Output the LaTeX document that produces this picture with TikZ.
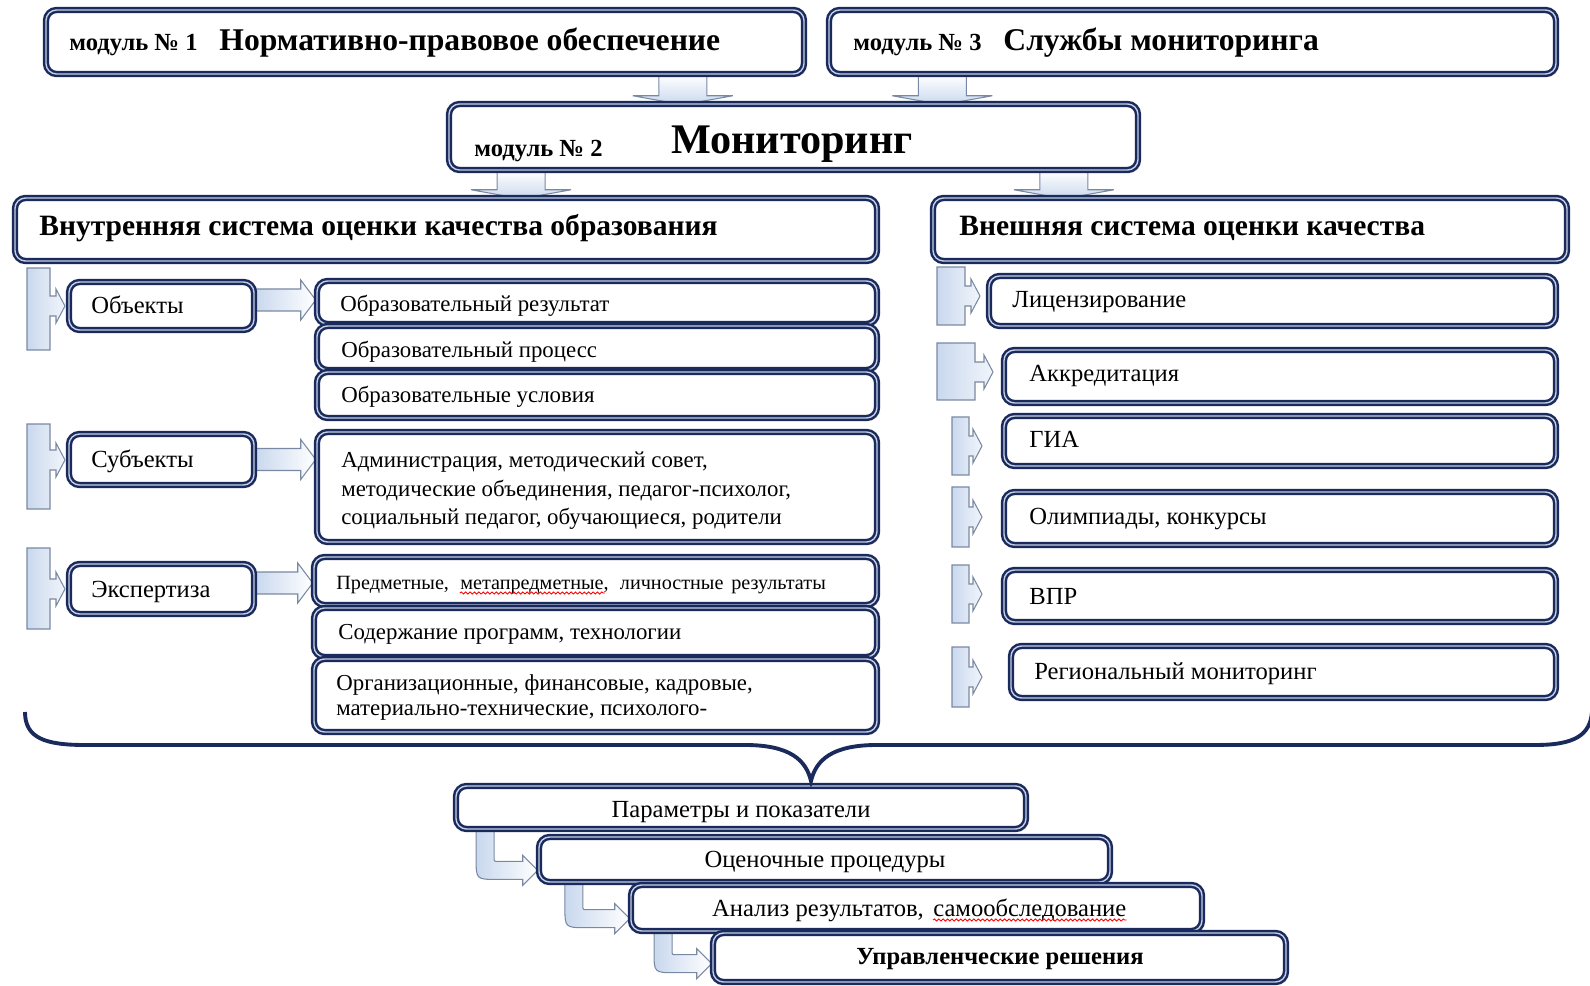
\documentclass[tikz,border=0pt]{standalone}
\usepackage{fontspec}
\setmainfont{Liberation Serif}
\usetikzlibrary{calc,fit,positioning,shadows,backgrounds,decorations.pathmorphing}
\definecolor{navy}{HTML}{1B2A5C}
\definecolor{boxin}{HTML}{C5D0E4}
\definecolor{arrfill}{HTML}{C9D8EE}
\definecolor{arredge}{HTML}{7A89A3}

\tikzset{
  box/.style={draw=navy, double=boxin, double distance=0.8pt, line width=1.4pt,
    rounded corners=6pt, fill=white, inner sep=0pt,
    drop shadow={shadow xshift=1.5pt, shadow yshift=-1.5pt, opacity=0.25}},
  txt/.style={inner sep=0pt, anchor=base west},
  modlbl/.style={txt, font=\bfseries\fontsize{14}{16}\selectfont},
  modtitle/.style={txt, font=\bfseries\fontsize{18}{21}\selectfont},
  bigtitle/.style={txt, font=\bfseries\fontsize{24}{28}\selectfont},
  systitle/.style={txt, font=\bfseries\fontsize{16.8}{20}\selectfont},
  lbl/.style={txt, font=\fontsize{14}{17}\selectfont},
  lbls/.style={txt, font=\fontsize{13}{16.5}\selectfont, align=left},
  lblb/.style={inner sep=0pt, font=\fontsize{14}{16}\selectfont},
  fatarrow/.style={draw=arredge, line width=0.6pt},
  fatdown/.style={fatarrow, top color=white, bottom color=arrfill, to path={
    ($(\tikztostart)+(-24,0)$) -- ($(\tikztotarget)+(-24,-9)$) -- ($(\tikztotarget)+(-50,-9)$)
    -- (\tikztotarget) -- ($(\tikztotarget)+(50,-9)$) -- ($(\tikztotarget)+(24,-9)$)
    -- ($(\tikztostart)+(24,0)$) -- cycle}},
  fatright/.style={fatarrow, left color=arrfill, right color=white, to path={
    ($(\tikztostart)+(0,-11)$) -- ($(\tikztotarget)+(-15,-11)$) -- ($(\tikztotarget)+(-15,-20)$)
    -- (\tikztotarget) -- ($(\tikztotarget)+(-15,20)$) -- ($(\tikztotarget)+(-15,11)$)
    -- ($(\tikztostart)+(0,11)$) -- cycle}},
  bentarrow/.style={fatarrow, left color=arrfill, right color=white, to path={
    ($(\tikztostart)+(-9,0)$) -- ($(\tikztostart|-\tikztotarget)+(-9,-12)$)
    .. controls ($(\tikztostart|-\tikztotarget)+(-9,9)$) .. ($(\tikztostart|-\tikztotarget)+(12,9)$)
    -- ($(\tikztotarget)+(-15,9)$) -- ($(\tikztotarget)+(-15,15)$) -- (\tikztotarget)
    -- ($(\tikztotarget)+(-15,-15)$) -- ($(\tikztotarget)+(-15,-9)$)
    -- ($(\tikztostart|-\tikztotarget)+(13,-9)$)
    .. controls ($(\tikztostart|-\tikztotarget)+(9,-9)$) .. ($(\tikztostart|-\tikztotarget)+(9,-13)$)
    -- ($(\tikztostart)+(9,0)$) -- cycle}},
  bracket/.style={fatarrow, left color=arrfill, right color=arrfill!25},
  spell/.style={red, line width=0.5pt, decorate, decoration={snake, amplitude=0.6pt, segment length=2.5pt}}
}
% bar x0,x1, top ya, bottom yb, arrow at ym, tip xt
\newcommand{\brarrow}[6]{%
  \draw[bracket] (#1,#3) -- (#2,#3) -- (#2,{#5-10}) -- ({#6-9},{#5-10}) -- ({#6-9},{#5-17})
    -- (#6,#5) -- ({#6-9},{#5+17}) -- ({#6-9},{#5+10}) -- (#2,{#5+10}) -- (#2,#4) -- (#1,#4) -- cycle;}

\begin{document}
\begin{tikzpicture}[x=0.02cm, y=-0.02cm]
\useasboundingbox (0,0) rectangle (1590,986);

% modules
\node[box, fit={(46,10) (804,74)}] (m1) {};
\node[box, fit={(829,10) (1556,74)}] (m3) {};
\node[box, fit={(449,104) (1138,170)}] (m2) {};
\node[modlbl] (m1a) at (69,51) {модуль № 1};
\node[modtitle, base right=12pt of m1a] (m1b) {Нормативно-правовое обеспечение};
\node[modlbl] (m3a) at (853,51) {модуль № 3};
\node[modtitle, base right=12pt of m3a] (m3b) {Службы мониторинга};
\node[modlbl] (m2a) at (474,157) {модуль № 2};
\node[bigtitle] (m2b) at (671,154) {Мониторинг};

% two systems
\node[box, fit={(15,198) (877,261)}] (int) {};
\node[box, fit={(933,198) (1567,261)}] (ext) {};
\node[systitle] (intt) at (39,236) {Внутренняя система оценки качества образования};
\node[systitle] (extt) at (959,236) {Внешняя система оценки качества};

% internal: left column
\node[box, fit={(69,282) (254,330)}] (ob) {};
\node[box, fit={(69,434) (254,485)}] (sub) {};
\node[box, fit={(69,564) (254,614)}] (exp) {};
\node[lbl] (obt) at (91,314) {Объекты};
\node[lbl] (subt) at (91,468) {Субъекты};
\node[lbl] (expt) at (91,598) {Экспертиза};

\node[box, fit={(317,281) (877,324)}] (r1) {};
\node[box, fit={(317,326) (877,370)}] (r2) {};
\node[box, fit={(317,372) (877,418)}] (r3) {};
\node[box, fit={(317,432) (877,542)}] (s1) {};
\node[box, fit={(314,557) (877,605)}] (e1) {};
\node[box, fit={(314,608) (877,657)}] (e2) {};
\node[box, fit={(314,659) (877,732)}] (e3) {};
\node[lbls] (r1t) at (340,312) {Образовательный результат};
\node[lbls] (r2t) at (341,358) {Образовательный процесс};
\node[lbls] (r3t) at (341,403) {Образовательные условия};
\node[lbls, font=\fontsize{13}{16.5}\selectfont] (s1t) at (341,525)
  {Администрация, методический совет,\\методические объединения, педагог-психолог,\\социальный педагог, обучающиеся, родители};
\node[lbls, font=\fontsize{11.5}{14}\selectfont] (e1a) at (336,589) {Предметные,};
\node[lbls, font=\fontsize{11.5}{14}\selectfont, base right=6pt of e1a] (e1b) {метапредметные,};
\node[lbls, font=\fontsize{11.5}{14}\selectfont, base right=6pt of e1b] (e1c) {личностные};
\node[lbls, font=\fontsize{11.5}{14}\selectfont, base right=4pt of e1c] (e1d) {результаты};
\node[lbls] (e2t) at (338,640) {Содержание программ, технологии};
\node[lbls, font=\fontsize{13}{14}\selectfont] (e3t) at (336,715)
  {Организационные, финансовые, кадровые,\\материально-технические, психолого-};
\draw[spell] ($(e1b.base west)+(0,4)$) -- ($(e1b.base east)+(-4,4)$);

% external: right column
\node[box, fit={(989,276) (1556,326)}] (lic) {};
\node[box, fit={(1004,350) (1556,403)}] (akk) {};
\node[box, fit={(1004,416) (1556,466)}] (gia) {};
\node[box, fit={(1004,492) (1556,545)}] (oly) {};
\node[box, fit={(1004,570) (1556,622)}] (vpr) {};
\node[box, fit={(1011,646) (1556,698)}] (reg) {};
\node[lbl] (lict) at (1012,308) {Лицензирование};
\node[lbl] (akkt) at (1029,382) {Аккредитация};
\node[lbl] (giat) at (1029,448) {ГИА};
\node[lbl] (olyt) at (1029,525) {Олимпиады, конкурсы};
\node[lbl] (vprt) at (1029,604) {ВПР};
\node[lbl] (regt) at (1034,679) {Региональный мониторинг};

% steps
\node[box, fit={(456,786) (1026,829)}] (p1) {};
\node[box, fit={(539,837) (1110,882)}] (p2) {};
\node[box, fit={(631,885) (1202,931)}] (p3) {};
\node[box, fit={(713,933) (1286,982)}] (p4) {};
\node[lblb, anchor=base] (p1t) at (741,817) {Параметры и показатели};
\node[lblb, anchor=base] (p2t) at (825,867) {Оценочные процедуры};
\node[lblb, anchor=base west] (p3b) at (933,916) {самообследование};
\node[lblb, base left=5pt of p3b] (p3a) {Анализ результатов,};
\node[lblb, anchor=base, font=\bfseries\fontsize{14}{16}\selectfont] (p4t) at (1000,964) {Управленческие решения};
\draw[spell] ($(p3b.base west)+(0,4)$) -- ($(p3b.base east)+(0,4)$);

% arrows
\begin{scope}[on background layer]
\coordinate (d1s) at ($(m1.south west)!0.839!(m1.south east)$);
\coordinate (d1e) at ($(d1s |- m2.north)+(0,2)$);
\coordinate (d2s) at ($(m3.south west)!0.157!(m3.south east)$);
\coordinate (d2e) at ($(d2s |- m2.north)+(0,2)$);
\coordinate (d3s) at ($(m2.south west)!0.106!(m2.south east)$);
\coordinate (d3e) at ($(d3s |- int.north)+(0,2)$);
\coordinate (d4s) at ($(m2.south west)!0.891!(m2.south east)$);
\coordinate (d4e) at ($(d4s |- ext.north)+(0,2)$);
\draw[fatdown] (d1s) to (d1e);
\draw[fatdown] (d2s) to (d2e);
\draw[fatdown] (d3s) to (d3e);
\draw[fatdown] (d4s) to (d4e);

\coordinate (a1s) at ($(ob.east)+(0,-6)$);
\coordinate (a1e) at (a1s -| r1.west);
\coordinate (a2s) at (sub.east);
\coordinate (a2e) at (a2s -| s1.west);
\coordinate (a3s) at ($(exp.east)+(0,-6)$);
\coordinate (a3e) at (a3s -| e1.west);
\draw[fatright] (a1s) to (a1e);
\draw[fatright] (a2s) to (a2e);
\draw[fatright] (a3s) to (a3e);

\coordinate (b1s) at ($(p1.south west)!0.053!(p1.south east)$);
\coordinate (b1e) at ($(p2.south west)!0.27!(p2.north west)$);
\coordinate (b2s) at ($(p2.south west)!0.063!(p2.south east)$);
\coordinate (b2e) at ($(p3.south west)!0.28!(p3.north west)$);
\coordinate (b3s) at ($(p3.south west)!0.058!(p3.south east)$);
\coordinate (b3e) at ($(p4.south west)!0.38!(p4.north west)$);
\draw[bentarrow] (b1s) to (b1e);
\draw[bentarrow] (b2s) to (b2e);
\draw[bentarrow] (b3s) to (b3e);
\end{scope}

% brackets
\brarrow{27}{50}{268}{350}{306}{65}
\brarrow{27}{50}{424}{509}{460}{65}
\brarrow{27}{50}{548}{629}{589}{65}
\brarrow{937}{965}{267}{325}{296}{980}
\brarrow{937}{975}{343}{400}{372}{993}
\brarrow{952}{969}{417}{475}{446}{982}
\brarrow{952}{969}{487}{547}{517}{982}
\brarrow{952}{969}{565}{623}{594}{982}
\brarrow{952}{969}{647}{707}{677}{982}

% brace
\draw[navy, line width=2.2pt] (25,712) .. controls (25,738) and (45,745) .. (85,745) -- (745,745)
  .. controls (790,745) and (806,760) .. (811,781) .. controls (816,760) and (832,745) .. (877,745)
  -- (1535,745) .. controls (1575,745) and (1590,735) .. (1592,712);
\end{tikzpicture}
\end{document}
